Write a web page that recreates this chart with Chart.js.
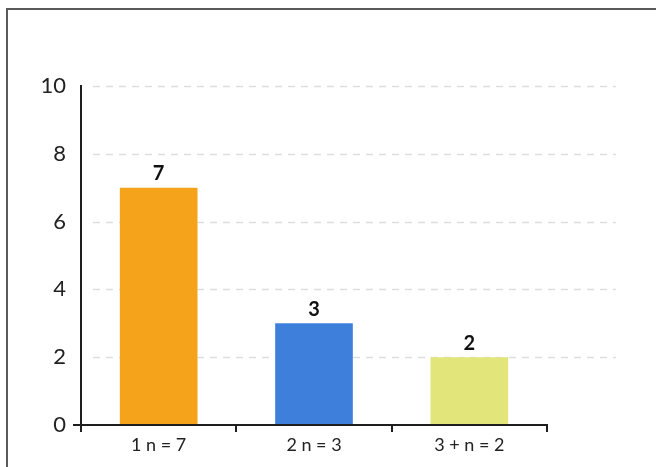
<!DOCTYPE html>
<html>
<head>
<meta charset="utf-8">
<script src="https://cdn.jsdelivr.net/npm/chart.js@4"></script>
<style>
  html, body { margin: 0; padding: 0; background: #fff; }
  canvas { display: block; }
</style>
</head>
<body>
<canvas id="myChart" width="656" height="467"></canvas>
<script>
// categorias y valores
const categories = ['1 n = 7', '2 n = 3', '3 + n = 2'];
const counts = [7, 3, 2];
const yTickValues = [0, 2, 4, 6, 8, 10];

const AXIS_COLOR = '#1e1e1e';
const FONT = 'Lato, "DejaVu Sans", sans-serif';

// lineas punteadas horizontales, mas largas que el eje x
const dashedGrid = {
    id: 'dashedGrid',
    beforeDatasetsDraw(chart) {
        const { ctx, scales: { y }, chartArea } = chart;
        ctx.save();
        ctx.strokeStyle = '#dedede';
        ctx.lineWidth = 1.5;
        ctx.setLineDash([7, 6]);
        yTickValues.filter(v => v > 0).forEach(v => {
            const py = Math.round(y.getPixelForValue(v)) + 0.5;
            ctx.beginPath();
            ctx.moveTo(chartArea.left + 12, py);
            ctx.lineTo(chartArea.right + 69, py);
            ctx.stroke();
        });
        ctx.restore();
    }
};

// numero sobre cada barra
const valueLabels = {
    id: 'valueLabels',
    afterDatasetsDraw(chart) {
        const { ctx } = chart;
        const meta = chart.getDatasetMeta(0);
        ctx.save();
        ctx.fillStyle = '#111';
        ctx.font = 'bold 20px ' + FONT;
        ctx.textAlign = 'center';
        ctx.textBaseline = 'bottom';
        meta.data.forEach((bar, i) => {
            ctx.fillText(String(counts[i]), bar.x, bar.y - 4);
        });
        ctx.restore();
    }
};

// marco superior e izquierdo
const frame = {
    id: 'frame',
    afterDraw(chart) {
        const { ctx, width, height } = chart;
        ctx.save();
        ctx.strokeStyle = '#5a5a5a';
        ctx.lineWidth = 2;
        ctx.beginPath();
        ctx.moveTo(width, 9);
        ctx.lineTo(7, 9);
        ctx.lineTo(7, height);
        ctx.stroke();
        ctx.restore();
    }
};

const ctx = document.getElementById('myChart').getContext('2d');

const myChart = new Chart(ctx, {
    type: 'bar',
    data: {
        labels: categories,
        datasets: [{
            data: counts,
            backgroundColor: ['#f6a31c', '#3f7fdc', '#e2e57a'],
            borderWidth: 0,
            categoryPercentage: 1,
            barPercentage: 0.5
        }]
    },
    options: {
        responsive: false,
        animation: false,
        layout: { padding: { left: 0, right: 109, top: 86, bottom: 0 } },
        plugins: {
            legend: { display: false },
            tooltip: { enabled: false }
        },
        scales: {
            x: {
                offset: true,
                grid: {
                    offset: true,
                    drawOnChartArea: false,
                    tickLength: 7,
                    color: AXIS_COLOR,
                    lineWidth: 2
                },
                border: { display: true, color: AXIS_COLOR, width: 2 },
                ticks: {
                    color: '#222',
                    font: { family: FONT, size: 18 },
                    padding: 2
                },
                afterFit(scale) { scale.height = 42; }
            },
            y: {
                min: 0,
                max: 10,
                afterBuildTicks(scale) {
                    scale.ticks = yTickValues.map(v => ({ value: v }));
                },
                grid: {
                    drawOnChartArea: false,
                    tickLength: 8,
                    lineWidth: 2,
                    color: c => (c.tick && c.tick.value === 0) ? AXIS_COLOR : 'rgba(0,0,0,0)'
                },
                border: { display: true, color: AXIS_COLOR, width: 2 },
                ticks: {
                    color: '#222',
                    font: { family: FONT, size: 22 },
                    padding: 7
                },
                afterFit(scale) { scale.width = 81; }
            }
        }
    },
    plugins: [dashedGrid, valueLabels, frame]
});
</script>
</body>
</html>
